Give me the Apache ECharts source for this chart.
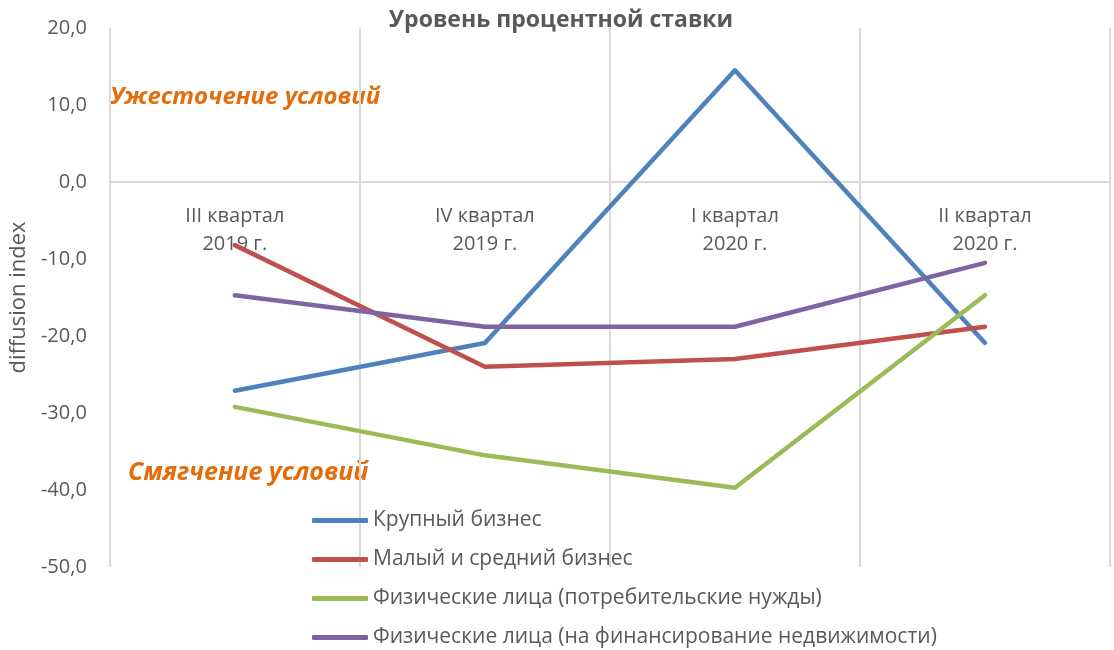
<!DOCTYPE html>
<html>
<head>
<meta charset="utf-8">
<script src="https://cdn.jsdelivr.net/npm/echarts@6/dist/echarts.min.js"></script>
<style>
  html, body { margin: 0; padding: 0; background: #fff; }
  #chart { width: 1114px; height: 650px; }
</style>
</head>
<body>
<div id="chart"></div>
<script>
// categories (quarters)
const quarters = ['III квартал\n2019 г.', 'IV квартал\n2019 г.', 'I квартал\n2020 г.', 'II квартал\n2020 г.']

// series values, diffusion index
const bigBusiness   = [-27.1, -20.9, 14.5, -20.9]
const smeBusiness   = [-8.2, -24.0, -23.0, -18.8]
const consumerLoans = [-29.2, -35.5, -39.7, -14.7]
const mortgageLoans = [-14.7, -18.8, -18.8, -10.5]

const seriesNames = [
  'Крупный бизнес',
  'Малый и средний бизнес',
  'Физические лица (потребительские нужды)',
  'Физические лица (на финансирование недвижимости)'
]
const COLORS = ['#4f81bd', '#c0504d', '#9bbb59', '#8064a2']
const FONT = '"Open Sans", "Noto Sans", sans-serif'
const GRID = '#d9d9d9'

const chart = echarts.init(document.getElementById('chart'))

const mkLine = (name, data) => ({
  name,
  type: 'line',
  data,
  symbol: 'none',
  lineStyle: { width: 4.5, cap: 'round', join: 'round' }
})

chart.setOption({
  animation: false,
  color: COLORS,
  textStyle: { fontFamily: FONT },
  title: {
    text: 'Уровень процентной ставки',
    left: 561,
    textAlign: 'center',
    top: 9,
    padding: 0,
    textStyle: { fontSize: 23, fontWeight: 'bold', color: '#595959', fontFamily: FONT }
  },
  grid: { left: 107, right: 4, top: 28, bottom: 83 },
  legend: {
    orient: 'vertical',
    left: 312,
    top: 510,
    padding: 0,
    icon: 'roundRect',
    itemWidth: 56,
    itemHeight: 5,
    itemGap: 18,
    textStyle: { fontSize: 21, color: '#595959' },
    data: seriesNames
  },
  xAxis: [
    {
      // grid lines + zero line
      type: 'category',
      data: quarters,
      boundaryGap: true,
      axisLine: { onZero: true, lineStyle: { color: GRID, width: 2 } },
      axisTick: { show: false },
      axisLabel: { show: false },
      splitLine: { show: true, lineStyle: { color: GRID, width: 2 } }
    },
    {
      // labels sitting under the zero line
      type: 'category',
      data: quarters,
      position: 'bottom',
      offset: -385,
      boundaryGap: true,
      axisLine: { show: false },
      axisTick: { show: false },
      splitLine: { show: false },
      axisLabel: { fontSize: 20, color: '#595959', lineHeight: 28, margin: 20 }
    }
  ],
  yAxis: {
    type: 'value',
    min: -50,
    max: 20,
    interval: 10,
    name: 'diffusion index',
    nameLocation: 'middle',
    nameGap: 76,
    nameTextStyle: { fontSize: 22, color: '#595959' },
    axisLine: { show: false },
    axisTick: { show: false },
    splitLine: { show: false },
    axisLabel: {
      fontSize: 20,
      color: '#595959',
      margin: 23,
      formatter: v => v.toFixed(1).replace('.', ',')
    }
  },
  graphic: [
    {
      type: 'text', left: 110, top: 85,
      style: { text: 'Ужесточение условий', fill: '#e46c0a', font: 'italic bold 24px ' + FONT }
    },
    {
      type: 'text', left: 128, top: 460,
      style: { text: 'Смягчение условий', fill: '#e46c0a', font: 'italic bold 25px ' + FONT }
    }
  ],
  series: [
    mkLine(seriesNames[0], bigBusiness),
    mkLine(seriesNames[1], smeBusiness),
    mkLine(seriesNames[2], consumerLoans),
    mkLine(seriesNames[3], mortgageLoans)
  ]
})
</script>
</body>
</html>
